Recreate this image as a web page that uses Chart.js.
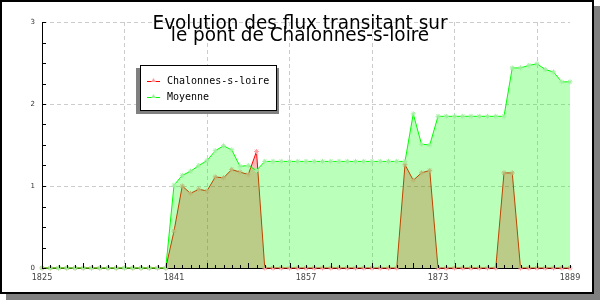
<!DOCTYPE html>
<html>
<head>
<meta charset="utf-8">
<script src="https://cdn.jsdelivr.net/npm/chart.js@4/dist/chart.umd.min.js"></script>
<style>
  html, body { margin: 0; padding: 0; background: #fff; }
  #cadre { position: absolute; left: 0; top: 0; width: 594px; height: 294px; box-sizing: border-box;
           border: 2px solid #000; background: #fff; box-shadow: 6px 6px 0 #808080; }
  #zone { position: absolute; left: 0; top: 0; width: 600px; height: 300px; }
</style>
</head>
<body>
<div id="cadre"></div>
<div id="zone"><canvas id="grafico" width="600" height="300"></canvas></div>
<script>
const annees = [1825, 1826, 1827, 1828, 1829, 1830, 1831, 1832, 1833, 1834, 1835, 1836, 1837, 1838, 1839,
  1840, 1841, 1842, 1843, 1844, 1845, 1846, 1847, 1848, 1849, 1850, 1851, 1852, 1853, 1854,
  1855, 1856, 1857, 1858, 1859, 1860, 1861, 1862, 1863, 1864, 1865, 1866, 1867, 1868, 1869,
  1870, 1871, 1872, 1873, 1874, 1875, 1876, 1877, 1878, 1879, 1880, 1881, 1882, 1883, 1884,
  1885, 1886, 1887, 1888, 1889];

// flux au pont de Chalonnes
const fluxChalonnes = [0, 0, 0, 0, 0, 0, 0, 0, 0, 0, 0, 0, 0, 0, 0,
  0, 0.45, 1.0, 0.91, 0.96, 0.94, 1.11, 1.10, 1.20, 1.17, 1.14, 1.42, 0, 0, 0,
  0, 0, 0, 0, 0, 0, 0, 0, 0, 0, 0, 0, 0, 0, 1.26,
  1.07, 1.16, 1.19, 0, 0, 0, 0, 0, 0, 0, 0, 1.16, 1.16, 0, 0,
  0, 0, 0, 0, 0];

// moyenne
const fluxMoyenne = [0, 0, 0, 0, 0, 0, 0, 0, 0, 0, 0, 0, 0, 0, 0,
  0, 1.01, 1.13, 1.18, 1.25, 1.31, 1.43, 1.49, 1.44, 1.24, 1.25, 1.19, 1.30, 1.30, 1.30,
  1.30, 1.30, 1.30, 1.30, 1.30, 1.30, 1.30, 1.30, 1.30, 1.30, 1.30, 1.30, 1.30, 1.30, 1.30,
  1.88, 1.51, 1.50, 1.85, 1.85, 1.85, 1.85, 1.85, 1.85, 1.85, 1.85, 1.85, 2.44, 2.44, 2.47,
  2.49, 2.42, 2.39, 2.27, 2.27];

const etiquettesX = [1825, 1841, 1857, 1873, 1889];
const grilleX = [1835, 1845, 1855, 1865, 1875, 1885];
const etiquettesY = [0, 1, 2, 3];
const titre = ["Evolution des flux transitant sur", "le pont de Chalonnes-s-loire"];
const noms = ["Chalonnes-s-loire", "Moyenne"];

const marquesX = [...etiquettesX, ...grilleX].sort((a, b) => a - b);

// ticks vers l'interieur, titre et legende dessines a la main
const decor = {
  id: 'decor',
  afterDraw(chart) {
    const ctx = chart.ctx;
    const xs = chart.scales.x, ys = chart.scales.y;
    const bas = chart.chartArea.bottom, gauche = chart.chartArea.left;

    ctx.save();
    ctx.strokeStyle = '#000';
    ctx.lineWidth = 1;
    ctx.beginPath();
    for (const a of annees) {
      const px = Math.round(xs.getPixelForValue(a)) + 0.5;
      const h = (a % 5 === 0) ? 5 : 3;
      ctx.moveTo(px, bas);
      ctx.lineTo(px, bas - h);
    }
    for (let v = 0; v <= 3; v += 0.25) {
      const py = Math.round(ys.getPixelForValue(v)) + 0.5;
      ctx.moveTo(gauche, py);
      ctx.lineTo(gauche + 4, py);
    }
    ctx.stroke();

    // titre
    ctx.fillStyle = '#000';
    ctx.font = '20px "DejaVu Sans Condensed", "DejaVu Sans", sans-serif';
    ctx.textAlign = 'center';
    ctx.textBaseline = 'alphabetic';
    const k = 295 / ctx.measureText(titre[0]).width;
    titre.forEach((t, i) => {
      ctx.save();
      ctx.translate(300, 29 + i * 12);
      ctx.scale(k, 1);
      ctx.fillText(t, 0, 0);
      ctx.restore();
    });

    // legende avec ombre
    const bx = 140, by = 65, bw = 137, bh = 46;
    ctx.fillStyle = '#808080';
    ctx.fillRect(bx - 4, by + 3, bw + 6, bh);
    ctx.fillStyle = '#fff';
    ctx.fillRect(bx, by, bw, bh);
    ctx.strokeStyle = '#000';
    ctx.strokeRect(bx + 0.5, by + 0.5, bw - 1, bh - 1);
    ctx.font = '10px "DejaVu Sans Mono", monospace';
    ctx.textAlign = 'left';
    ctx.textBaseline = 'middle';
    chart.data.datasets.forEach((d, i) => {
      const ly = 81 + i * 16;
      ctx.strokeStyle = d.borderColor;
      ctx.beginPath();
      ctx.moveTo(147, ly + 0.5);
      ctx.lineTo(160, ly + 0.5);
      ctx.stroke();
      ctx.fillStyle = d.pointBorderColor;
      ctx.beginPath();
      ctx.moveTo(151, ly + 1);
      ctx.lineTo(156, ly + 1);
      ctx.lineTo(153.5, ly - 3);
      ctx.closePath();
      ctx.fill();
      ctx.fillStyle = '#000';
      ctx.fillText(noms[i], 167, ly);
    });
    ctx.restore();
  }
};

new Chart(document.getElementById('grafico'), {
  type: 'line',
  data: {
    datasets: [
      {
        label: noms[0],
        data: annees.map((a, i) => ({ x: a, y: fluxChalonnes[i] })),
        borderColor: '#ff0000',
        backgroundColor: 'rgba(255, 0, 0, 0.28)',
        borderWidth: 1,
        fill: 'origin',
        tension: 0,
        pointStyle: 'star',
        pointRadius: 2.5,
        pointBorderWidth: 1,
        pointBorderColor: '#ffa0a0',
        pointBackgroundColor: '#ffa0a0',
        clip: false,
        order: 2
      },
      {
        label: noms[1],
        data: annees.map((a, i) => ({ x: a, y: fluxMoyenne[i] })),
        borderColor: '#00ff00',
        backgroundColor: 'rgba(0, 255, 0, 0.27)',
        borderWidth: 1,
        fill: 'origin',
        tension: 0,
        pointStyle: 'star',
        pointRadius: 2.5,
        pointBorderWidth: 1,
        pointBorderColor: '#a0f0a0',
        pointBackgroundColor: '#a0f0a0',
        clip: false,
        order: 1
      }
    ]
  },
  options: {
    responsive: false,
    animation: false,
    layout: { padding: { left: 0, right: 30, top: 22, bottom: 0 } },
    scales: {
      x: {
        type: 'linear',
        min: 1825,
        max: 1889,
        afterBuildTicks: s => { s.ticks = marquesX.map(v => ({ value: v })); },
        afterFit: s => { s.height = 32; },
        ticks: {
          autoSkip: false,
          maxRotation: 0,
          padding: 4,
          color: '#444',
          font: { family: '"DejaVu Sans Condensed", "DejaVu Sans", sans-serif', size: 9 },
          callback: v => etiquettesX.includes(v) ? String(v) : ''
        },
        grid: {
          drawTicks: false,
          color: c => (c.tick && grilleX.includes(c.tick.value)) ? '#cccccc' : 'rgba(0,0,0,0)'
        },
        border: { color: '#000', width: 1, dash: [4, 3] }
      },
      y: {
        min: 0,
        max: 3,
        afterBuildTicks: s => { s.ticks = etiquettesY.map(v => ({ value: v })); },
        afterFit: s => { s.width = 42; },
        ticks: {
          padding: 7,
          color: '#333',
          font: { family: '"DejaVu Sans", sans-serif', size: 7 }
        },
        grid: {
          drawTicks: false,
          color: c => (c.tick && c.tick.value > 0) ? '#cccccc' : 'rgba(0,0,0,0)'
        },
        border: { color: '#000', width: 1, dash: [4, 3] }
      }
    },
    plugins: {
      legend: { display: false },
      tooltip: { enabled: false }
    }
  },
  plugins: [decor]
});
</script>
</body>
</html>
